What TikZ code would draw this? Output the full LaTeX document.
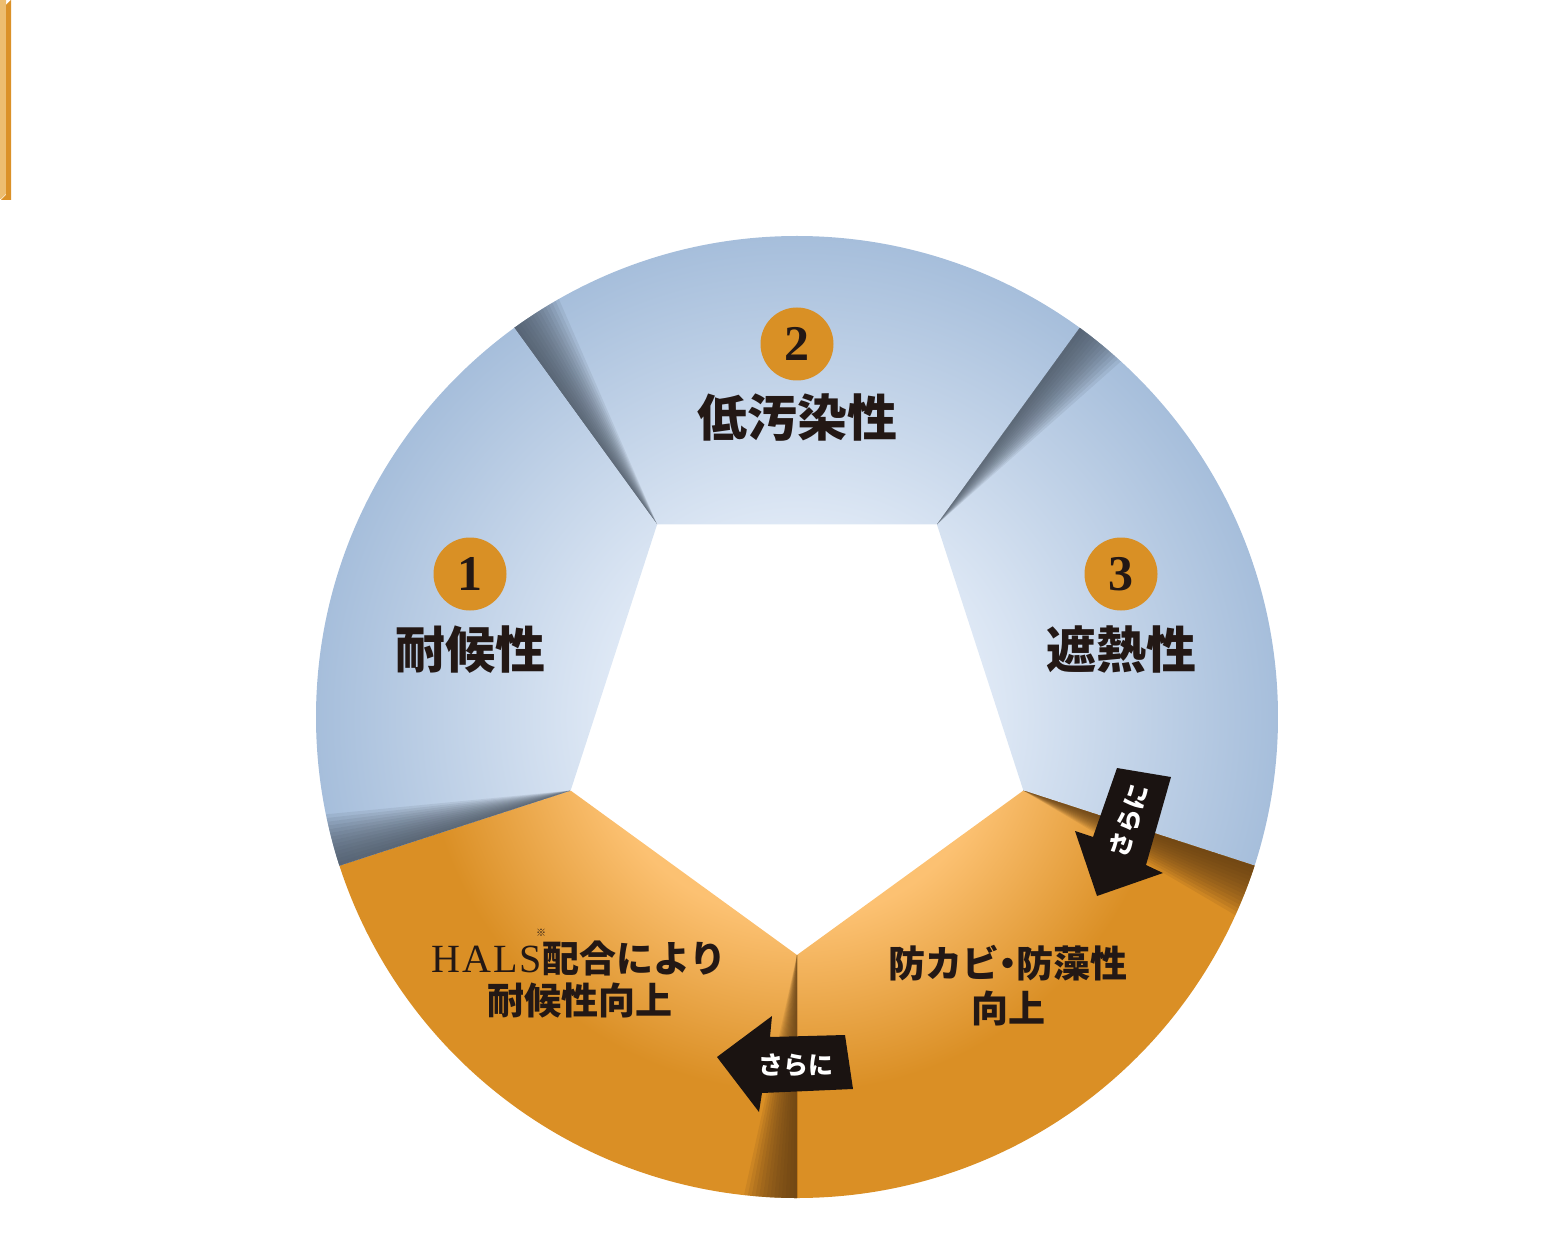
\documentclass[tikz,border=0pt]{standalone}
\usepackage{fontspec}
\setmainfont{Liberation Serif}
\newfontfamily\cjk{Noto Sans CJK JP}
\usetikzlibrary{calc}
\definecolor{bll}{HTML}{DEE8F5}
\definecolor{bld}{HTML}{A6BEDB}
\definecolor{orl}{HTML}{FCC172}
\definecolor{ord}{HTML}{DA8F25}
\definecolor{numc}{HTML}{D99025}
\definecolor{shb}{HTML}{4A5562}
\definecolor{sho}{HTML}{5E3C14}
\definecolor{barl}{HTML}{EDBD70}
\definecolor{bard}{HTML}{DB9128}
\definecolor{txt}{HTML}{231815}
\definecolor{arrc}{HTML}{1A1311}
\pgfdeclareradialshading{bluering}{\pgfpoint{0bp}{0bp}}{color(0bp)=(bll); color(10bp)=(bll); color(25bp)=(bld); color(50bp)=(bld)}
\pgfdeclareradialshading{orangering}{\pgfpoint{0bp}{0bp}}{color(0bp)=(orl); color(10.5bp)=(orl); color(19.5bp)=(ord); color(50bp)=(ord)}
\begin{document}
\begin{tikzpicture}[x=0.5pt,y=-0.5pt,
  numcirc/.style={circle, fill=numc, minimum size=36.5pt, inner sep=0pt, text=txt, font=\fontsize{25}{25}\selectfont\bfseries},
  titletext/.style={text=txt, inner sep=0pt, font=\cjk\bfseries\fontsize{25}{30}\selectfont},
  lowtext/.style={text=txt, inner sep=0pt, font=\cjk\bfseries\fontsize{18.5}{22}\selectfont},
  arrtext/.style={text=white, inner sep=0pt, font=\cjk\bfseries\fontsize{12.5}{15}\selectfont},
  arrowshape/.style={fill=arrc}]
\useasboundingbox (0,0) rectangle (1558,1251);
% side bar
\fill[barl] (0,0) -- (6,0) -- (6,194) -- (1,199) -- (0,199) -- cycle;
\fill[bard] (6,5) -- (11,0) -- (11,200) -- (1,200) -- (6,195) -- cycle;
% ring segments
\begin{scope}[shift={(797,717)}]
\foreach \a/\sh/\shc in {-126/bluering/shb, -54/bluering/shb, 18/orangering/sho, 90/orangering/sho, 162/bluering/shb} {
  \begin{scope}
    \clip (0,0) circle (481);
    \clip (\a:238) -- (\a:700) -- (\a+36:700) -- (\a+72:700) -- (\a+72:238) -- cycle;
    \shade[shading=\sh] (0,0) circle (481);
    \foreach \k in {1,...,14} {
      \fill[\shc, opacity=0.11] (\a:238) -- (\a:490) -- (\a+0.46*\k:490) -- cycle;
    }
  \end{scope}
}
\end{scope}
% numbers and titles
\node[numcirc] (n1) at (470,574) {1};
\node[numcirc] (n2) at (797,344) {2};
\node[numcirc] (n3) at (1121,574) {3};
\node[titletext] (t1) at (470,650) {耐候性};
\node[titletext] (t2) at (797,418) {低汚染性};
\node[titletext] (t3) at (1121,650) {遮熱性};
% lower texts
\node[lowtext] (h1) at (579,958) {{\rmfamily\mdseries\fontsize{20}{22}\selectfont H\kern1pt A\kern1pt L\kern1pt S}配合により};
\node[text=txt, inner sep=0pt, font=\cjk\fontsize{5}{6}\selectfont] (hm) at (541,933) {※};
\node[lowtext] (h2) at (580,1000) {耐候性向上};
\node[lowtext] (r1) at (1008,963) {防カビ\kern-0.28em・\kern-0.28em 防藻性};
\node[lowtext] (r2) at (1008,1008) {向上};
% arrows
\fill[arrowshape] (1117,768) -- (1171,777) -- (1146,865) -- (1163,873) -- (1097,896) -- (1075,831) -- (1093,837) -- cycle;
\node[arrtext, rotate=73] (a1) at (1129,821) {さらに};
\fill[arrowshape] (717,1057) -- (772,1016) -- (770,1037) -- (845,1035) -- (853,1089) -- (762,1093) -- (759,1112) -- cycle;
\node[arrtext] (a2) at (796,1065) {さらに};
\end{tikzpicture}
\end{document}
